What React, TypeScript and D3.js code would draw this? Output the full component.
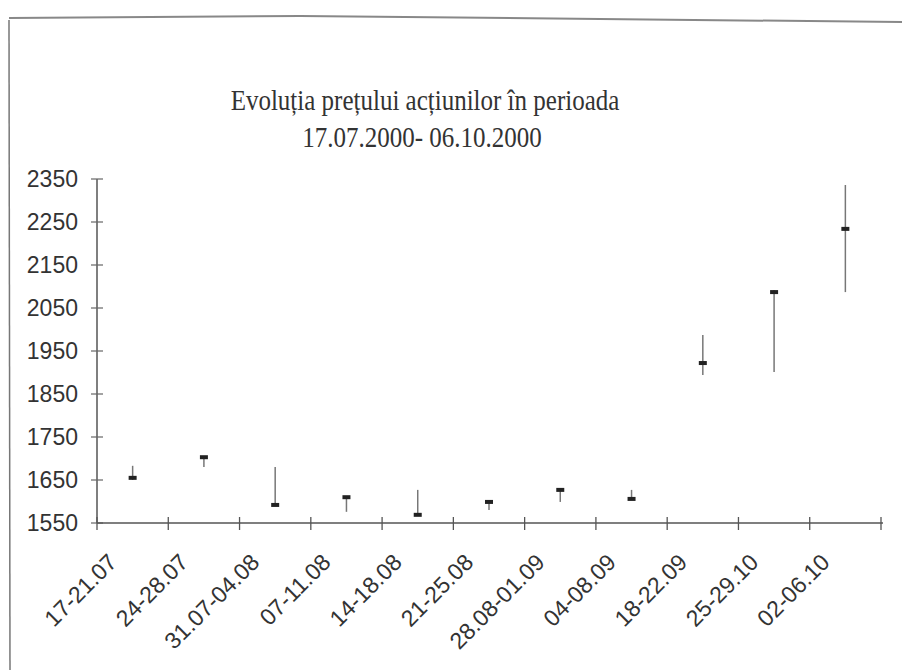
import React, { useEffect } from "react";
import * as d3 from "d3";

const categories = [
  "17-21.07", "24-28.07", "31.07-04.08", "07-11.08", "14-18.08", "21-25.08",
  "28.08-01.09", "04-08.09", "18-22.09", "25-29.10", "02-06.10",
];
const highValues = [1683, 1705, 1680, 1611, 1627, 1601, 1629, 1627, 1987, 2092, 2336];
const lowValues = [1650, 1680, 1590, 1576, 1567, 1580, 1599, 1604, 1894, 1901, 2087];
const closeValues = [1655, 1703, 1592, 1610, 1569, 1599, 1627, 1606, 1922, 2087, 2234];
const yTicks = [1550, 1650, 1750, 1850, 1950, 2050, 2150, 2250, 2350];
const titleLines = ["Evoluția prețului acțiunilor în perioada", "17.07.2000- 06.10.2000"];

const W = 902, H = 670;
const plot = { left: 97, right: 881, top: 179, bottom: 523 };

export default function App() {
  useEffect(() => {
    document.body.style.margin = "0";
  }, []);

  const x = d3.scaleBand<string>().domain(categories).range([plot.left, plot.right]).padding(0);
  const y = d3.scaleLinear().domain([1550, 2350]).range([plot.bottom, plot.top]);
  const sans = "'Liberation Sans', Arial, sans-serif";
  const serif = "'Liberation Serif', 'Times New Roman', serif";
  const ink = "#333";
  const xTickPos = [...categories.map((c) => x(c)!), plot.right];

  return (
    <svg width={W} height={H} style={{ display: "block", background: "#fff" }}>
      {/* scan frame */}
      <path d="M10,670 L9,20" stroke="#777" strokeWidth={1.5} fill="none" />
      <path d="M9,18 L300,16 L600,19 L902,22" stroke="#888" strokeWidth={2} fill="none" />

      {/* title */}
      <g fill={ink} fontFamily={serif} textAnchor="middle">
        <text transform="translate(425,110) scale(1,1.2)" fontSize={25}>{titleLines[0]}</text>
        <text transform="translate(422,147) scale(1,1.2)" fontSize={25}>{titleLines[1]}</text>
      </g>

      {/* y axis */}
      <line x1={plot.left} x2={plot.left} y1={plot.top} y2={plot.bottom} stroke="#555" strokeWidth={1.5} />
      {yTicks.map((t) => (
        <g key={t}>
          <line x1={plot.left - 6} x2={plot.left + 6} y1={y(t)} y2={y(t)} stroke="#666" strokeWidth={1.2} />
          <text x={78} y={y(t)} dy="0.36em" textAnchor="end" fontFamily={sans} fontSize={23} fill={ink}>
            {t}
          </text>
        </g>
      ))}

      {/* x axis */}
      <line x1={plot.left} x2={plot.right + 2} y1={plot.bottom} y2={plot.bottom} stroke="#555" strokeWidth={1.5} />
      {xTickPos.map((p, i) => (
        <line key={i} x1={p} x2={p} y1={plot.bottom - 6} y2={plot.bottom + 7} stroke="#555" strokeWidth={1.3} />
      ))}
      {categories.map((c) => {
        const cx = x(c)! + x.bandwidth() / 2;
        return (
          <text
            key={c}
            transform={`translate(${cx - 20},558) rotate(-45)`}
            textAnchor="end"
            dy="0.35em"
            fontFamily={sans}
            fontSize={23}
            fill={ink}
          >
            {c}
          </text>
        );
      })}

      {/* high-low-close */}
      {categories.map((c, i) => {
        const cx = x(c)! + x.bandwidth() / 2;
        return (
          <g key={c}>
            <line x1={cx} x2={cx} y1={y(highValues[i])} y2={y(lowValues[i])} stroke="#777" strokeWidth={1.5} />
            <rect x={cx - 4} y={y(closeValues[i]) - 2} width={8} height={4} fill="#222" />
          </g>
        );
      })}
    </svg>
  );
}
